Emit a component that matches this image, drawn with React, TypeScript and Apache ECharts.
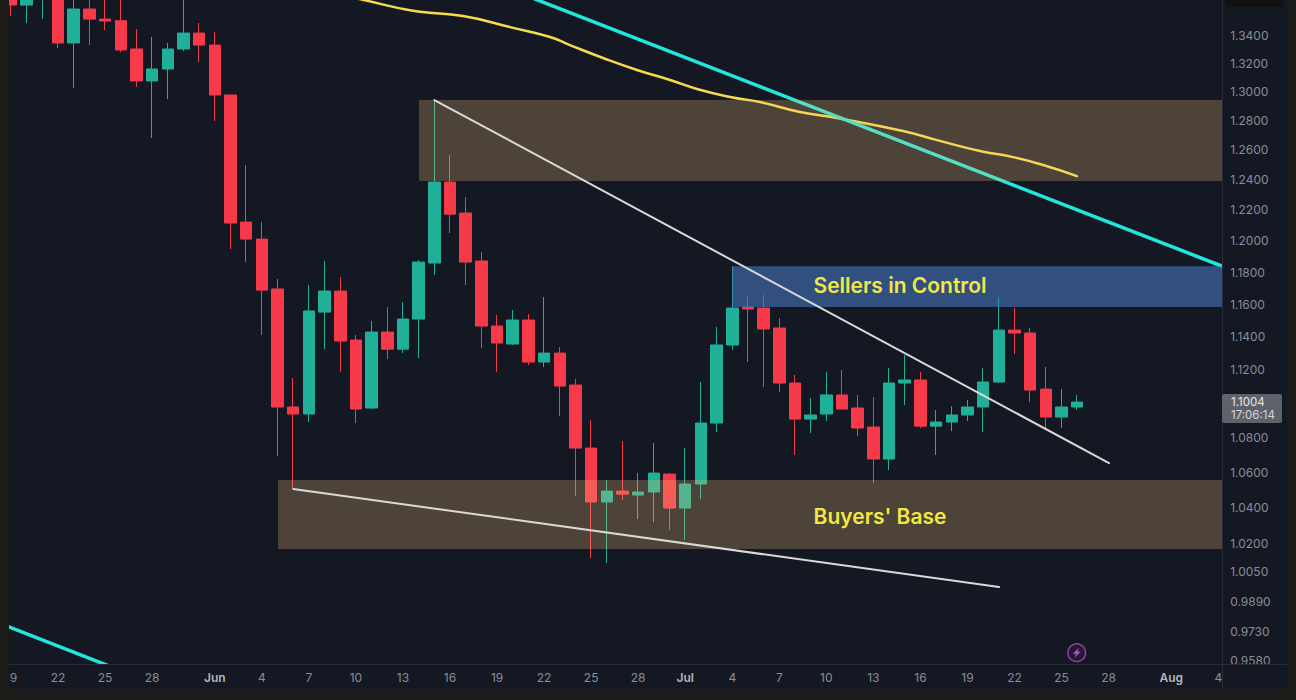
import React, { useEffect, useRef } from "react";
import * as echarts from "echarts";

const categories = [
  "19","20","21","22","23","24","25","26","27","28","29","30","31",
  "Jun","2","3","4","5","6","7","8","9","10","11","12","13","14","15","16","17","18","19","20","21","22","23","24","25","26","27","28","29","30",
  "Jul","2","3","4","5","6","7","8","9","10","11","12","13","14","15","16","17","18","19","20","21","22","23","24","25","26","27","28","29","30","31",
  "Aug","2","3","4",
];
const shownTickIndexes = [0,3,6,9,13,16,19,22,25,28,31,34,37,40,43,46,49,52,55,58,61,64,67,70,74,77];
const priceTicks = [1.34,1.32,1.3,1.28,1.26,1.24,1.22,1.2,1.18,1.16,1.14,1.12,1.08,1.06,1.04,1.02,1.005,0.989,0.973,0.958];

// [open, close, low, high]
const candles = [
  [1.3676,1.3617,1.3537,1.3698],[1.3617,1.3698,1.3486,1.3727],[1.3684,1.3771,1.3515,1.3801],[1.3713,1.3343,1.3307,1.3742],
  [1.3343,1.3588,1.3025,1.3713],[1.3588,1.3515,1.3328,1.3683],[1.3515,1.3501,1.3436,1.3676],[1.3503,1.3293,1.3278,1.369],
  [1.33,1.3074,1.3032,1.3443],[1.3074,1.3158,1.268,1.3386],[1.3158,1.33,1.2948,1.3343],[1.33,1.3414,1.3286,1.3698],
  [1.3414,1.3328,1.3207,1.3486],[1.3328,1.2976,1.2796,1.3422],[1.2976,1.2115,1.1947,1.2976],[1.2121,1.2011,1.1864,1.2498],
  [1.2011,1.1687,1.1409,1.2121],[1.1694,1.0977,1.0692,1.1756],[1.0977,1.0936,1.051,1.1149],[1.0936,1.1557,1.0889,1.1719],
  [1.155,1.1681,1.1323,1.1871],[1.1681,1.1372,1.1185,1.1769],[1.1378,1.0965,1.0883,1.1409],[1.0971,1.1427,1.0965,1.1495],
  [1.1427,1.1323,1.1263,1.1581],[1.1323,1.1507,1.1299,1.1612],[1.1507,1.1864,1.1269,1.1877],[1.1858,1.2384,1.1782,1.2941],
  [1.2384,1.2173,1.205,1.2565],[1.218,1.1864,1.1719,1.2285],[1.1871,1.1464,1.1329,1.1928],[1.1464,1.136,1.1185,1.1532],
  [1.1354,1.1501,1.1348,1.1563],[1.1501,1.1245,1.1227,1.1538],[1.1245,1.1299,1.1215,1.1644],[1.1299,1.1101,1.0924,1.1335],
  [1.1107,1.0738,1.0465,1.1143],[1.0738,1.0432,1.0123,1.09],[1.0432,1.0493,1.0096,1.0555],[1.0493,1.0476,1.0443,1.0778],
  [1.0471,1.0488,1.0337,1.0595],[1.0488,1.0595,1.032,1.0767],[1.0589,1.0398,1.0276,1.0595],[1.0398,1.0533,1.0221,1.0738],
  [1.0533,1.0883,1.0448,1.1125],[1.0883,1.1348,1.083,1.1458],[1.1348,1.1575,1.1317,1.1838],[1.1581,1.1569,1.1245,1.165],
  [1.1575,1.1446,1.1095,1.1656],[1.1452,1.1119,1.1065,1.1513],[1.1119,1.0906,1.0698,1.1167],[1.0906,1.093,1.0825,1.103],
  [1.0936,1.1048,1.0895,1.1185],[1.1048,1.0965,1.0965,1.1197],[1.0971,1.0854,1.0807,1.1048],[1.086,1.0675,1.0538,1.1036],
  [1.0675,1.1119,1.0612,1.1209],[1.1119,1.1137,1.0988,1.1287],[1.1137,1.0865,1.0854,1.1185],[1.0865,1.0889,1.0698,1.0959],
  [1.0889,1.093,1.0836,1.0982],[1.093,1.0977,1.0895,1.1018],[1.0977,1.1125,1.083,1.1209],[1.1125,1.1439,1.1119,1.1644],
  [1.1439,1.1421,1.1293,1.1575],[1.1421,1.1077,1.1006,1.1452],[1.1083,1.0918,1.0854,1.1215],[1.0918,1.0977,1.0854,1.1083],
  [1.0977,1.1006,1.0959,1.1048],
];

// [day index, price]
const yellowAverage = [
  [21.3,1.3683],[22.5,1.3654],[24.81,1.3593],[26.08,1.3568],[28.83,1.3537],[31.82,1.3457],[34.38,1.3386],[35.65,1.3328],
  [37.76,1.3236],[39.92,1.3151],[42.03,1.3081],[43.75,1.3018],[45.86,1.2962],[47.77,1.2927],[50.32,1.2858],[52.68,1.2817],
  [56.89,1.2728],[59.06,1.2666],[61.8,1.2592],[63.9,1.2551],[65.82,1.2498],[67.98,1.2424],
];
const cyanUpper = [[30.3,1.3801],[77.5,1.1828]];
const cyanLower = [[-0.5,0.9768],[6.95,0.9532]];
const whiteUpper = [[27,1.2941],[70.03,1.0652]];
const whiteLower = [[18,1.0505],[63.01,0.9967]];

// [from day, top price, to day, bottom price]
const tanZones = [[26.02,1.2941,77.5,1.2391],[17.03,1.0555,77.5,1.0172]];
const blueZones = [[45.98,1.1838,77.5,1.1581]];

const font = "Inter, 'Noto Sans', sans-serif";
const PANEL = "#141823";
const FRAME = "#1c1c19";
const BORDER = "#282c37";
const UP = "#20b097";
const DOWN = "#f63a4a";

const zoneSeries = (data: number[][], fill: string, z: number) => ({
  type: "custom",
  xAxisIndex: 1,
  yAxisIndex: 0,
  z,
  silent: true,
  data,
  encode: { x: [0, 2], y: [1, 3] },
  renderItem: (_p: any, api: any) => {
    const a = api.coord([api.value(0), api.value(1)]);
    const b = api.coord([api.value(2), api.value(3)]);
    return { type: "rect", shape: { x: a[0], y: a[1], width: b[0] - a[0], height: b[1] - a[1] }, style: { fill } };
  },
});

const lineSeries = (data: number[][], color: string, width: number, z: number, smooth: number | boolean = false) => ({
  type: "line",
  xAxisIndex: 1,
  yAxisIndex: 0,
  data,
  z,
  smooth,
  silent: true,
  showSymbol: false,
  symbol: "none",
  lineStyle: { color, width, cap: "round" },
});

export default function App() {
  const ref = useRef<HTMLDivElement>(null);
  useEffect(() => {
    document.body.style.margin = "0";
    document.body.style.background = FRAME;
    const chart = echarts.init(ref.current!, null, { renderer: "svg" });
    chart.setOption({
      animation: false,
      backgroundColor: FRAME,
      textStyle: { fontFamily: font },
      grid: { left: 3.16, width: 1223, top: 0, height: 664, containLabel: false },
      xAxis: [
        {
          type: "category",
          data: categories,
          z: 12,
          axisLine: { show: false },
          axisTick: { show: false },
          splitLine: { show: false },
          axisLabel: {
            show: true,
            margin: 7,
            hideOverlap: false,
            interval: (i: number) => shownTickIndexes.includes(i),
            formatter: (v: string) => (/[A-Za-z]/.test(v) ? `{m|${v}}` : v),
            color: "#8a8d96",
            fontSize: 12,
            fontFamily: font,
            rich: { m: { color: "#b2b5be", fontSize: 12, fontWeight: 600, fontFamily: font } },
          },
        },
        { type: "value", show: false, min: -0.5, max: 77.5, splitLine: { show: false } },
      ],
      yAxis: [
        {
          type: "log",
          logBase: 10,
          min: 0.9564,
          max: 1.3654,
          position: "right",
          z: 10,
          axisLine: { show: false },
          axisTick: { show: false },
          splitLine: { show: false },
          axisLabel: {
            show: true,
            inside: false,
            margin: 4,
            customValues: priceTicks,
            showMinLabel: true,
            showMaxLabel: true,
            hideOverlap: false,
            formatter: (v: number) => Number(v).toFixed(4),
            color: "#8a8d96",
            fontSize: 12,
            fontFamily: font,
          },
        },
      ],
      series: [
        {
          type: "candlestick",
          data: candles,
          z: 2,
          barWidth: 12,
          silent: true,
          itemStyle: { color: UP, color0: DOWN, borderColor: UP, borderColor0: DOWN, borderWidth: 1 },
        },
        lineSeries(yellowAverage, "#f5dc4e", 2.5, 2, 0.5),
        lineSeries(cyanUpper, "#22e6dc", 3.5, 2),
        lineSeries(cyanLower, "#22e6dc", 3.5, 2),
        zoneSeries(tanZones, "rgba(248,196,120,0.25)", 3),
        zoneSeries(blueZones, "rgba(68,118,190,0.6)", 3),
        lineSeries(whiteUpper, "#d9d9d9", 2, 4),
        lineSeries(whiteLower, "#d9d9d9", 2, 4),
      ],
      graphic: {
        elements: [
          { type: "rect", silent: true, z: -10, shape: { x: 9, y: 0, width: 1278, height: 689 }, style: { fill: PANEL } },
          { type: "text", silent: true, z: 5, x: 900, y: 285, style: { text: "Sellers in Control", fill: "#f3e744", font: `600 21px ${font}`, align: "center", verticalAlign: "middle" } },
          { type: "text", silent: true, z: 5, x: 880, y: 516, style: { text: "Buyers' Base", fill: "#f3e744", font: `600 21px ${font}`, align: "center", verticalAlign: "middle" } },
          { type: "rect", silent: true, z: 6, shape: { x: 1222, y: 0, width: 65, height: 664 }, style: { fill: PANEL } },
          { type: "line", silent: true, z: 7, shape: { x1: 1222.5, y1: 0, x2: 1222.5, y2: 689 }, style: { stroke: BORDER, lineWidth: 1 } },
          { type: "rect", silent: true, z: 8, shape: { x: 1226, y: -4, width: 57, height: 11, r: 3 }, style: { fill: "#111110" } },
          { type: "rect", silent: true, z: 11, shape: { x: 9, y: 664, width: 1278, height: 25 }, style: { fill: PANEL } },
          { type: "line", silent: true, z: 11, shape: { x1: 9, y1: 664.5, x2: 1287, y2: 664.5 }, style: { stroke: BORDER, lineWidth: 1 } },
          { type: "line", silent: true, z: 11, shape: { x1: 1222.5, y1: 664, x2: 1222.5, y2: 689 }, style: { stroke: BORDER, lineWidth: 1 } },
          { type: "rect", silent: true, z: 11, shape: { x: 1222, y: 394, width: 60, height: 29, r: 2 }, style: { fill: "#5f616b" } },
          { type: "text", silent: true, z: 12, x: 1231, y: 401.5, style: { text: "1.1004", fill: "#e8e8ea", font: `11.5px ${font}`, verticalAlign: "middle" } },
          { type: "text", silent: true, z: 12, x: 1231, y: 415, style: { text: "17:06:14", fill: "#d5d6da", font: `11.5px ${font}`, verticalAlign: "middle" } },
          { type: "circle", silent: true, z: 5, shape: { cx: 1076.7, cy: 652.7, r: 8.8 }, style: { fill: "#221a2e", stroke: "#8f3fa6", lineWidth: 1.5 } },
          { type: "polygon", silent: true, z: 6, shape: { points: [[1079,647.5],[1072.8,653.8],[1076,653.8],[1074.5,658],[1080.8,651.6],[1077.6,651.6]] }, style: { fill: "#b04fd0" } },
          { type: "rect", silent: true, z: 20, shape: { x: 0, y: 0, width: 9, height: 700 }, style: { fill: FRAME } },
          { type: "rect", silent: true, z: 20, shape: { x: 1287, y: 0, width: 9, height: 700 }, style: { fill: FRAME } },
        ],
      },
    });
    return () => chart.dispose();
  }, []);
  return <div ref={ref} style={{ position: "fixed", left: 0, top: 0, width: 1296, height: 700 }} />;
}
